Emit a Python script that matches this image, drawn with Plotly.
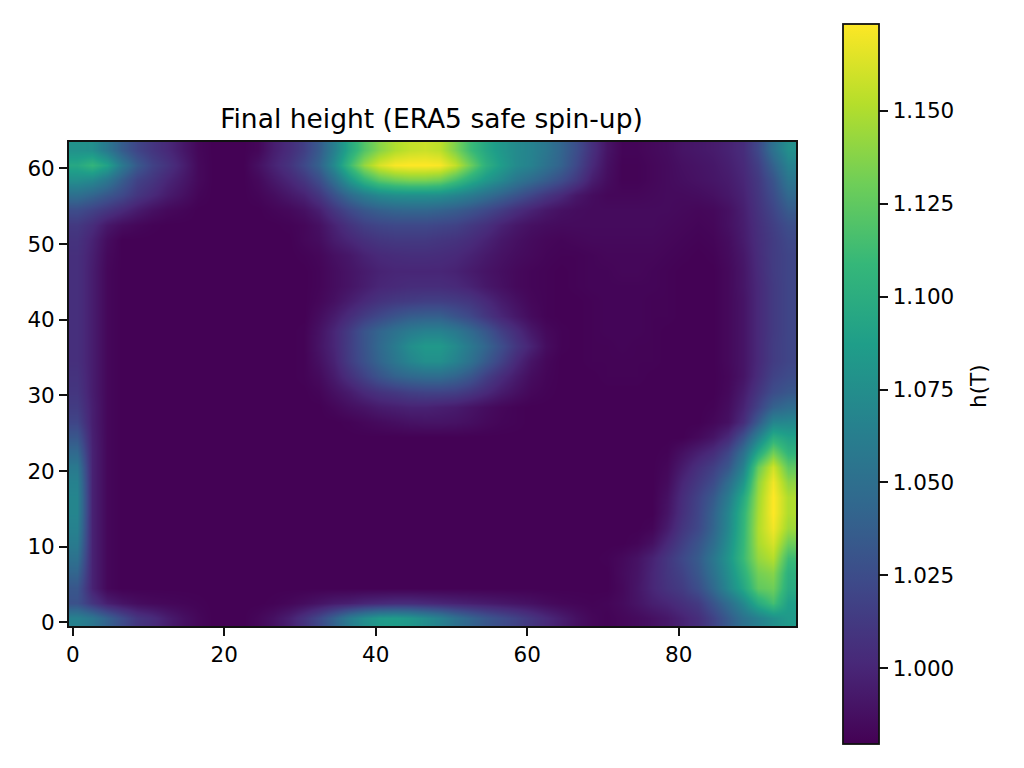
import plotly.graph_objects as go

BASE_HEIGHT = 0.98
X_CENTERS = [0.5 + 2 * i for i in range(48)]
Y_CENTERS = [62.5 - 2 * j for j in range(32)]
TITLE = "Final height (ERA5 safe spin-up)"
COLORBAR_LABEL = "h(T)"
COLORBAR_TICKS = [1.000, 1.025, 1.050, 1.075, 1.100, 1.125, 1.150]
X_TICKS = [0, 20, 40, 60, 80]
Y_TICKS = [0, 10, 20, 30, 40, 50, 60]

# thousandths above BASE_HEIGHT, rows from y=62.5 down to y=0.5
HEIGHT_MILLI = [
 [98,96,78,56,40,30,22,12,3,0,0,0,3,15,24,36,
  55,84,115,140,158,170,176,178,174,155,132,114,102,92,86,76,
  62,46,26,10,2,2,4,6,10,12,14,18,24,42,72,96],
 [115,126,110,78,54,38,28,16,4,0,0,0,8,18,28,42,
  60,92,130,162,182,192,194,194,192,176,150,122,106,92,85,72,
  60,42,22,8,1,1,3,5,8,10,12,16,22,36,60,85],
 [95,90,76,56,38,30,20,12,4,0,0,0,4,12,20,30,
  45,70,100,125,142,150,154,154,150,135,118,102,90,76,66,56,
  45,32,15,6,1,1,3,5,7,9,11,14,20,32,50,75],
 [70,62,52,42,30,22,14,8,2,0,0,0,2,6,12,18,
  30,48,66,80,90,95,96,96,94,88,80,70,60,50,40,30,
  22,12,6,3,3,3,4,5,5,6,8,12,18,30,45,65],
 [45,38,30,22,14,8,4,2,0,0,0,0,0,2,4,8,
  16,30,42,52,58,62,63,63,60,56,50,42,34,25,18,12,
  8,6,5,5,5,5,5,5,4,3,4,8,16,28,40,55],
 [32,24,12,6,3,1,0,0,0,0,0,0,0,0,1,3,
  8,18,28,36,40,42,42,42,40,38,32,26,18,12,8,6,
  5,5,5,5,5,5,5,4,3,2,3,8,15,26,36,46],
 [28,18,6,0,0,0,0,0,0,0,0,0,0,0,0,3,
  6,14,20,26,30,32,32,32,30,28,24,18,12,8,5,3,
  2,3,4,4,4,4,4,3,2,1,2,6,14,25,34,42],
 [26,16,4,0,0,0,0,0,0,0,0,0,0,0,0,1,
  3,8,12,18,22,24,25,25,24,22,18,13,9,6,4,2,
  1,1,2,3,3,3,3,2,1,0,1,5,12,24,34,40],
 [26,15,3,0,0,0,0,0,0,0,0,0,0,0,0,0,
  2,6,10,14,18,20,20,20,20,18,14,10,7,4,2,1,
  0,1,2,2,3,3,2,1,0,0,0,4,11,23,34,40],
 [26,15,3,0,0,0,0,0,0,0,0,0,0,0,0,0,
  2,6,10,15,20,22,24,24,24,22,18,12,8,4,2,1,
  0,1,2,2,2,2,2,1,0,0,0,4,11,22,33,40],
 [26,15,3,0,0,0,0,0,0,0,0,0,0,0,0,0,
  3,8,15,22,28,32,34,36,36,34,30,22,14,8,3,1,
  0,0,1,2,2,2,1,1,0,0,0,4,10,22,33,40],
 [26,15,3,0,0,0,0,0,0,0,0,0,0,0,0,0,
  6,14,24,34,42,50,56,58,58,50,42,30,20,12,5,1,
  0,0,1,2,2,2,1,1,0,0,0,4,10,22,33,40],
 [26,15,3,0,0,0,0,0,0,0,0,0,0,0,0,1,
  9,20,34,50,62,72,80,85,85,78,66,52,36,24,12,4,
  1,0,1,2,2,2,1,0,0,0,0,4,10,22,33,40],
 [26,15,3,0,0,0,0,0,0,0,0,0,0,0,0,1,
  10,20,35,50,65,80,95,103,103,92,78,62,46,30,18,6,
  1,0,1,1,2,1,1,0,0,0,0,4,10,22,34,40],
 [26,15,3,0,0,0,0,0,0,0,0,0,0,0,0,1,
  8,18,34,48,62,76,88,96,96,86,72,54,38,22,10,3,
  0,0,1,1,1,1,1,0,0,0,0,4,10,22,34,40],
 [28,15,3,0,0,0,0,0,0,0,0,0,0,0,0,1,
  5,14,26,38,50,60,65,68,68,62,52,36,24,14,6,2,
  0,0,0,1,1,1,0,0,0,0,0,3,10,24,38,44],
 [30,15,3,0,0,0,0,0,0,0,0,0,0,0,0,0,
  2,8,14,22,28,32,36,38,38,36,30,22,14,8,3,1,
  0,0,0,0,0,0,0,0,0,0,0,4,14,30,45,52],
 [34,16,3,0,0,0,0,0,0,0,0,0,0,0,0,0,
  0,3,7,10,14,16,18,18,16,14,10,6,3,1,0,0,
  0,0,0,0,0,0,0,0,0,0,1,6,18,38,60,68],
 [40,16,3,0,0,0,0,0,0,0,0,0,0,0,0,0,
  0,0,1,3,5,7,9,10,10,9,7,4,2,1,0,0,
  0,0,0,0,0,0,0,0,0,0,3,8,24,55,88,90],
 [52,17,3,0,0,0,0,0,0,0,0,0,0,0,0,0,
  0,0,0,0,0,0,0,0,0,0,0,0,0,0,0,0,
  0,0,0,0,0,0,0,0,0,4,10,22,48,85,120,110],
 [65,18,3,0,0,0,0,0,0,0,0,0,0,0,0,0,
  0,0,0,0,0,0,0,0,0,0,0,0,0,0,0,0,
  0,0,0,0,0,0,0,1,8,16,24,40,70,115,150,125],
 [78,18,3,0,0,0,0,0,0,0,0,0,0,0,0,0,
  0,0,0,0,0,0,0,0,0,0,0,0,0,0,0,0,
  0,0,0,0,0,0,0,3,14,26,36,52,85,148,180,145],
 [85,18,3,0,0,0,0,0,0,0,0,0,0,0,0,0,
  0,0,0,0,0,0,0,0,0,0,0,0,0,0,0,0,
  0,0,0,0,0,0,0,5,20,32,44,68,100,160,190,160],
 [88,18,3,0,0,0,0,0,0,0,0,0,0,0,0,0,
  0,0,0,0,0,0,0,0,0,0,0,0,0,0,0,0,
  0,0,0,0,0,0,0,8,24,38,54,80,116,165,194,170],
 [88,18,3,0,0,0,0,0,0,0,0,0,0,0,0,0,
  0,0,0,0,0,0,0,0,0,0,0,0,0,0,0,0,
  0,0,0,0,0,0,0,10,26,40,60,88,124,168,194,170],
 [85,18,3,0,0,0,0,0,0,0,0,0,0,0,0,0,
  0,0,0,0,0,0,0,0,0,0,0,0,0,0,0,0,
  0,0,0,0,0,0,2,14,30,42,62,90,126,170,190,165],
 [80,18,3,0,0,0,0,0,0,0,0,0,0,0,0,0,
  0,0,0,0,0,0,0,0,0,0,0,0,0,0,0,0,
  0,0,0,0,0,2,8,22,36,50,68,95,128,168,182,150],
 [72,18,3,0,0,0,0,0,0,0,0,0,0,0,0,0,
  0,0,0,0,0,0,0,0,0,0,0,0,0,0,0,0,
  0,0,0,1,4,9,18,30,42,55,76,100,130,162,172,132],
 [62,18,3,0,0,0,0,0,0,0,0,0,0,0,0,0,
  0,0,0,0,0,0,0,0,0,0,0,0,0,0,0,0,
  0,0,0,0,5,10,20,30,38,52,72,95,122,152,158,122],
 [52,18,3,0,0,0,0,0,0,0,0,0,0,0,0,0,
  0,0,0,0,0,0,0,0,0,0,0,0,0,0,0,0,
  0,0,0,0,4,11,20,28,34,46,65,90,114,145,150,118],
 [48,30,16,10,6,4,3,2,1,0,0,0,0,1,3,6,
  10,14,16,20,22,24,24,22,20,18,16,14,12,10,8,5,
  3,2,1,2,5,10,16,20,26,33,50,68,90,118,135,108],
 [85,76,60,44,30,24,15,8,3,0,0,0,3,8,16,28,
  42,60,80,94,104,106,102,94,85,72,62,52,45,38,30,22,
  15,8,3,1,3,5,8,12,18,25,38,55,72,84,96,104],
]

ROWS_BOTTOM_UP = HEIGHT_MILLI[::-1]
z = [[BASE_HEIGHT + v / 1000 for v in row] for row in ROWS_BOTTOM_UP]
y = Y_CENTERS[::-1]

FONT = "DejaVu Sans"
INK = "#111111"
TICK_SIZE = 21.5

fig = go.Figure(go.Heatmap(
    x=X_CENTERS, y=y, z=z, colorscale="Viridis", zmin=0.9796, zmax=1.1734,
    zsmooth="best",
    colorbar=dict(
        x=843 / 1024, xanchor="left", xpad=0, y=0.5, yanchor="middle", ypad=0,
        lenmode="pixels", len=720, thicknessmode="pixels", thickness=36,
        outlinecolor=INK, outlinewidth=1.8,
        tickmode="array", tickvals=COLORBAR_TICKS,
        ticktext=[f"{t:.3f}" for t in COLORBAR_TICKS],
        ticks="outside", ticklen=9, tickwidth=1.8, tickcolor=INK,
        tickfont=dict(family=FONT, size=TICK_SIZE, color="black"),
    ),
))

axis_common = dict(
    showgrid=False, zeroline=False, showline=True, mirror=True,
    linecolor=INK, linewidth=1.8, ticks="outside", ticklen=8, tickwidth=1.8,
    tickcolor=INK, tickfont=dict(family=FONT, size=TICK_SIZE, color="black"),
)
fig.update_layout(
    width=1024, height=768, margin=dict(l=0, r=0, t=0, b=0),
    paper_bgcolor="white", plot_bgcolor="white",
    title=dict(text=TITLE, x=431.5 / 1024, xanchor="center",
               y=1 - 119 / 768, yanchor="middle",
               font=dict(family=FONT, size=26.5, color="black")),
    xaxis=dict(axis_common, range=[-0.5, 95.5], domain=[69 / 1024, 796 / 1024],
               tickmode="array", tickvals=X_TICKS, automargin=False),
    yaxis=dict(axis_common, range=[-0.5, 63.5], domain=[1 - 626 / 768, 1 - 142 / 768],
               tickmode="array", tickvals=Y_TICKS, automargin=False),
    annotations=[dict(text=COLORBAR_LABEL, xref="paper", yref="paper",
                      x=978 / 1024, y=1 - 386 / 768, textangle=-90, showarrow=False,
                      xanchor="center", yanchor="middle",
                      font=dict(family=FONT, size=TICK_SIZE, color="black"))],
)
fig.write_html("out.html", config={"displayModeBar": False},
               post_script="document.body.style.margin='0';document.body.style.overflow='hidden';")
